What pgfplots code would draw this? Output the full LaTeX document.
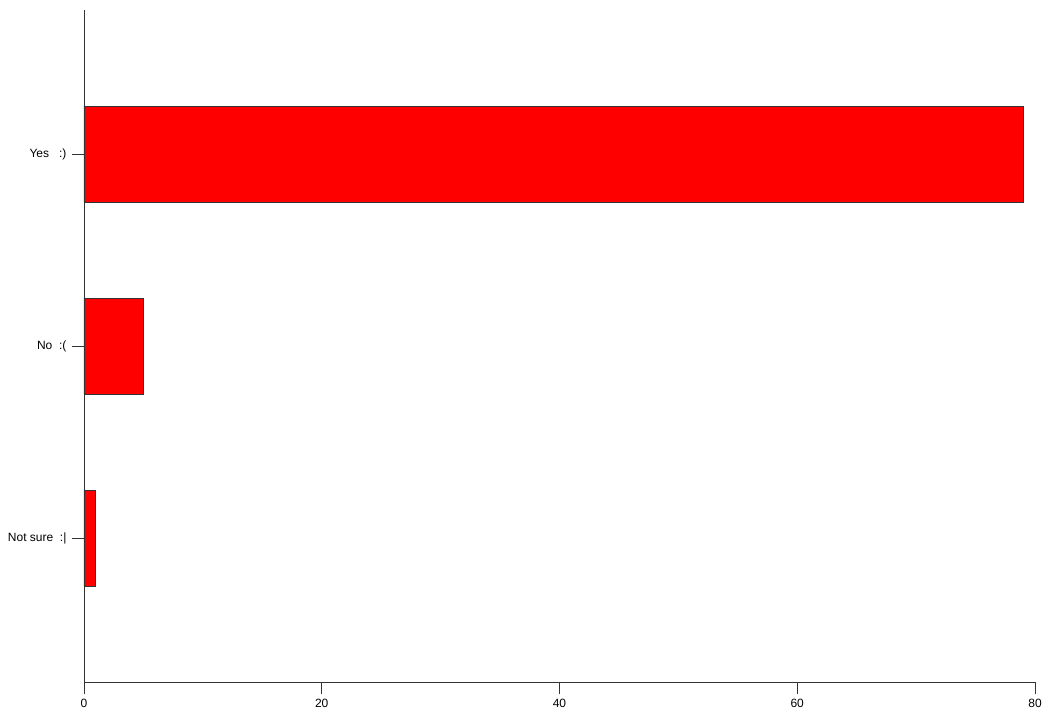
\documentclass[border=0pt]{standalone}
\usepackage{pgfplots}
\pgfplotsset{compat=1.18}
\usepackage{fontspec}
\setmainfont{Liberation Sans}
\begin{document}
\begin{tikzpicture}
\begin{axis}[name=ax, scale only axis, width=952pt, height=673pt,
  xbar, bar width=96pt,
  xmin=0, xmax=80, ymin=-0.75, ymax=2.75,
  axis x line*=bottom, axis y line*=left,
  axis line style={black!80, line width=0.8pt},
  ytick={0,1,2},
  yticklabels={Not sure\ \ :|, No\ \ :(, Yes\ \ \ :)},
  xtick={0,20,40,60,80},
  tick align=outside, major tick length=12pt,
  tick style={black!80, line width=0.8pt},
  font=\fontsize{12}{14}\selectfont,
  yticklabel style={xshift=-2pt},
  xticklabel style={yshift=-1pt},
  /pgf/number format/assume math mode=true,
  clip=false]
\addplot[fill=red, draw=black!80, line width=0.8pt] coordinates {(1,0) (5,1) (79,2)};
\end{axis}
\path ([xshift=-84pt,yshift=-34pt]ax.south west) rectangle ([xshift=9pt,yshift=10pt]ax.north east);
\end{tikzpicture}
\end{document}
